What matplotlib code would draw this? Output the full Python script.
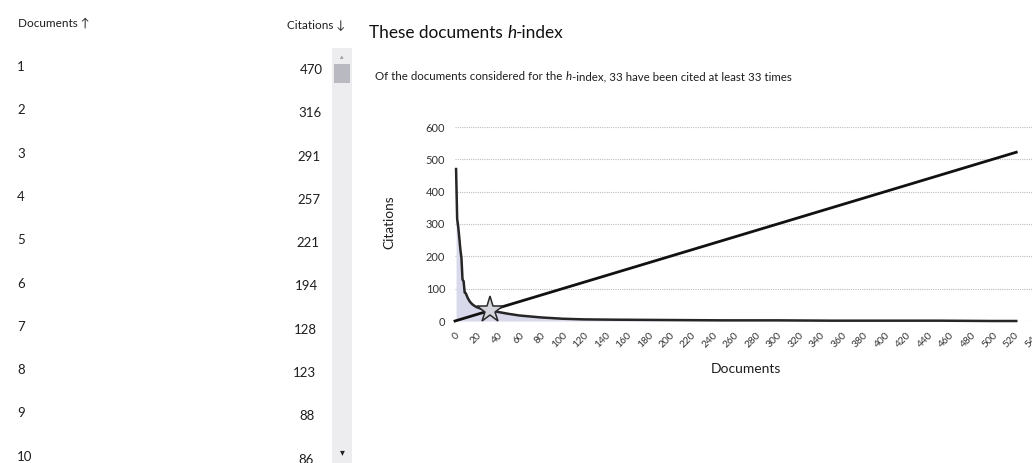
import numpy as np
import matplotlib.pyplot as plt
from matplotlib.patches import Rectangle

# table on the left
doc_rows = [1, 2, 3, 4, 5, 6, 7, 8, 9, 10]
row_citations = [470, 316, 291, 257, 221, 194, 128, 123, 88, 86]

# citation curve (rank -> citations)
ranks = [1, 2, 3, 4, 5, 6, 7, 8, 9, 10, 12, 14, 16, 18, 20, 25, 30, 33,
         40, 50, 60, 80, 100, 120, 150, 200, 250, 300, 350, 400, 450, 500, 522]
cites = [470, 316, 291, 257, 221, 194, 128, 123, 88, 86, 70, 59, 52, 47, 43, 37, 34, 33,
         28, 22, 17, 11, 7, 5, 4, 3, 2, 2, 1, 1, 1, 0, 0]
h_index = 33
n_docs = 522
x_ticks = list(range(0, 541, 20))
y_ticks = [0, 100, 200, 300, 400, 500, 600]

plt.rcParams['font.family'] = ['Lato', 'DejaVu Sans']

W, H = 1032, 463
fig = plt.figure(figsize=(W / 100, H / 100), dpi=100)


def fx(px):
    return px / W


def fy(py):
    return 1 - py / H


txt = '#1e1e1e'

# --- chart axes (made first so the annotations below have a home) ---
ax = fig.add_axes([fx(455), (H - 321) / H, 586 / W, 194 / H])
ax.set_xlim(0, 545)
ax.set_ylim(0, 600)
for s in ax.spines.values():
    s.set_visible(False)
ax.set_yticks(y_ticks)
ax.set_xticks(x_ticks)
ax.tick_params(length=0, labelsize=8, labelcolor='#333333')
ax.tick_params(axis='y', pad=7)
ax.tick_params(axis='x', pad=7, labelsize=7.4)
plt.setp(ax.get_xticklabels(), rotation=45, ha='right', rotation_mode='anchor')
ax.grid(axis='y', color='#bdbdbd', linestyle=(0, (1, 1)), linewidth=0.8)

ax.fill_between(ranks, cites, 0, color='#d9d9ec', linewidth=0, zorder=2)
ax.plot(ranks, cites, color='#262626', linewidth=1.8, zorder=3, clip_on=False)
ax.plot([0, n_docs], [0, n_docs], color='#111111', linewidth=2, zorder=4, clip_on=False)
ax.plot([h_index], [h_index], marker='*', markersize=20, markerfacecolor='#d4d4dc',
        markeredgecolor='#2a2a2a', markeredgewidth=1.1, zorder=5, clip_on=False)

fig.text(fx(746), fy(369), 'Documents', fontsize=10, color=txt, ha='center', va='center')
fig.text(fx(389), fy(222), 'Citations', fontsize=9.8, color=txt, ha='center', va='center', rotation=90)

# --- left table ---
fig.text(fx(18), fy(23), 'Documents \u2191', fontsize=8.5, color=txt, va='center', ha='left')
fig.text(fx(345), fy(25), 'Citations \u2193', fontsize=8.5, color=txt, va='center', ha='right')
for i, (d, c) in enumerate(zip(doc_rows, row_citations)):
    y = 67 + i * 43.3
    fig.text(fx(17), fy(y), str(d), fontsize=9.5, color=txt, va='center', ha='left')
    fig.text(fx(323 - i * 1.0), fy(y + 3), str(c), fontsize=9.5, color=txt, va='center', ha='right')

# scrollbar
fig.patches.append(Rectangle((fx(332), fy(463)), fx(20), (463 - 48) / H,
                             transform=fig.transFigure, facecolor='#ededf0', edgecolor='none'))
fig.patches.append(Rectangle((fx(334), fy(83)), fx(16), 19 / H,
                             transform=fig.transFigure, facecolor='#b9b9c2', edgecolor='none'))
fig.text(fx(342), fy(57), '\u25b4', fontsize=5, color='#999999', ha='center', va='center', family='DejaVu Sans')
fig.text(fx(342), fy(452), '\u25be', fontsize=7, color='#222222', ha='center', va='center', family='DejaVu Sans')

# --- titles ---
t1 = fig.text(fx(369), fy(33), 'These documents ', fontsize=12.4, color='#111111', va='center', ha='left')
t2 = ax.annotate('h', xycoords=t1, xy=(1, 0), va='bottom', fontsize=12.4, style='italic',
                 color='#111111', annotation_clip=False)
ax.annotate('-index', xycoords=t2, xy=(1, 0), va='bottom', fontsize=12.4, color='#111111',
            annotation_clip=False)

s1 = fig.text(fx(375), fy(77), 'Of the documents considered for the ', fontsize=8.3, color=txt,
              va='center', ha='left')
s2 = ax.annotate('h', xycoords=s1, xy=(1, 0), va='bottom', fontsize=8.3, style='italic', color=txt,
                 annotation_clip=False)
ax.annotate('-index, %d have been cited at least %d times' % (h_index, h_index),
            xycoords=s2, xy=(1, 0), va='bottom', fontsize=8.3, color=txt, annotation_clip=False)

fig.savefig('out.png', dpi=100)
